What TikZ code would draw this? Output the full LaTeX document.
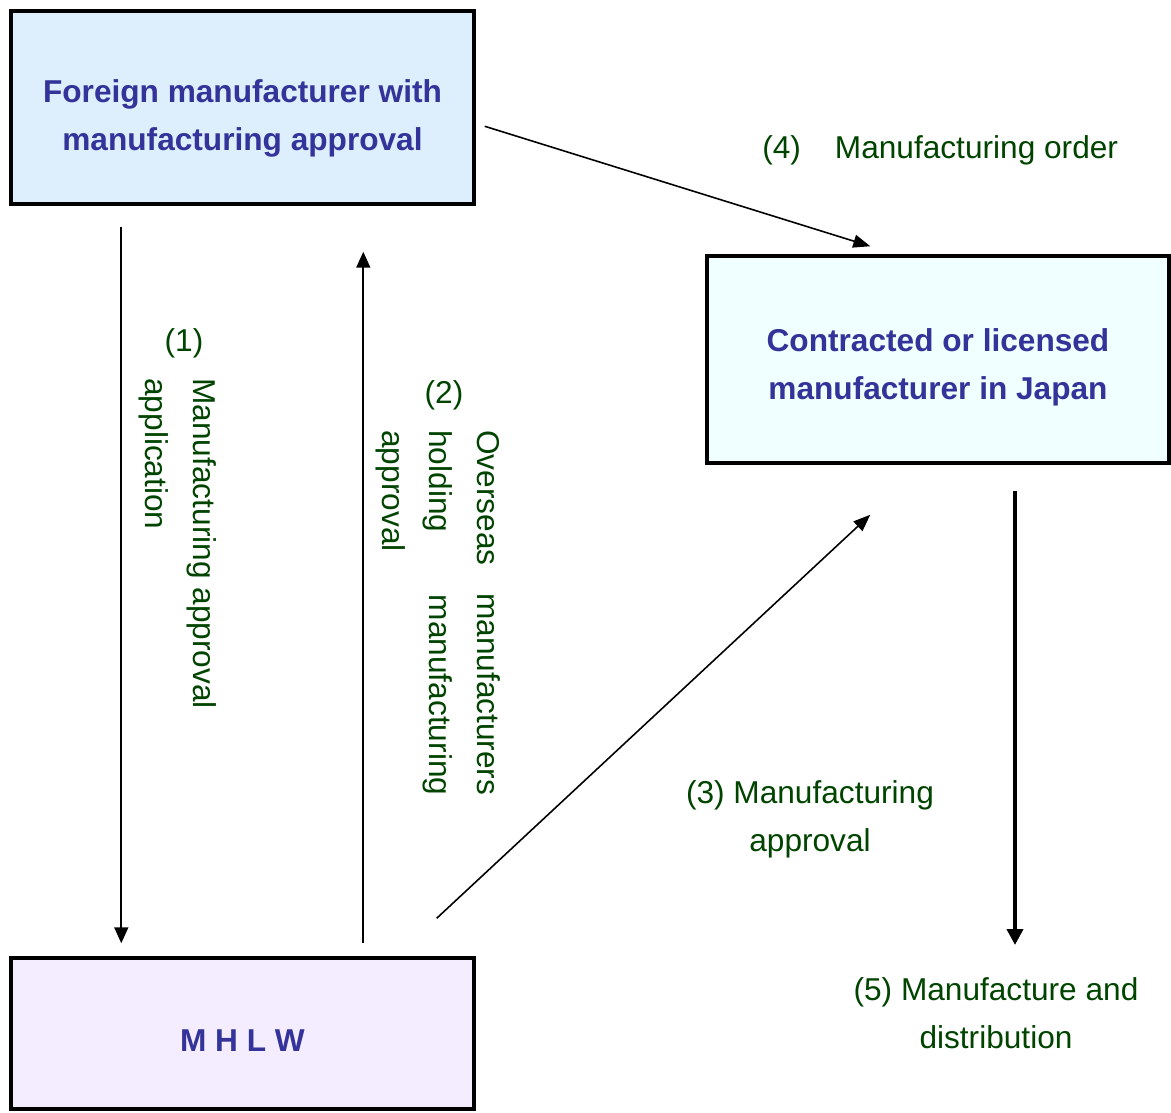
\documentclass[tikz,border=0pt]{standalone}
\usepackage{fontspec}
\setmainfont{Liberation Sans}
\usetikzlibrary{arrows.meta,calc}
\definecolor{boxtext}{HTML}{333399}
\definecolor{lblgreen}{HTML}{004400}
\definecolor{fillA}{HTML}{DDEEFD}
\definecolor{fillB}{HTML}{F0FFFF}
\definecolor{fillC}{HTML}{F4ECFF}
\begin{document}
\begin{tikzpicture}[x=0.02cm,y=-0.02cm,
  box/.style={draw=black,line width=2pt,rectangle,inner sep=0pt},
  boxlbl/.style={inner sep=0pt,align=center,text=boxtext,
    font=\fontsize{18}{27.2}\selectfont\bfseries},
  lbl/.style={inner sep=0pt,text=lblgreen,font=\fontsize{18}{27.2}\selectfont},
  thin/.style={line width=1pt,-{Triangle[length=0.32cm,width=0.28cm]}},
  mid/.style={line width=0.9pt,-{Triangle[length=0.34cm,width=0.26cm]}},
  thick/.style={line width=2.2pt,-{Triangle[length=0.32cm,width=0.32cm]}}]
\useasboundingbox (0,0) rectangle (1171,1113);
\node[box,fill=fillA,minimum width=9.26cm,minimum height=3.86cm] (fm) at (242.5,107.5) {};
\node[box,fill=fillB,minimum width=9.24cm,minimum height=4.14cm] (jp) at (938,359.5) {};
\node[box,fill=fillC,minimum width=9.26cm,minimum height=3.02cm] (mh) at (242.5,1033.5) {};
\node[boxlbl] (fmt) at ($(fm.center)+(0,11)$) {Foreign manufacturer with\\manufacturing approval};
\node[boxlbl] (jpt) at ($(jp.center)+(0,8)$) {Contracted or licensed\\manufacturer in Japan};
\node[boxlbl] (mht) at ($(mh.center)+(0,7)$) {M H L W};
% connectors
\coordinate (dist) at (1015,945);
\draw[thin] ($(fm.south west)+(112,21)$) -- ($(mh.north west)+(112,-13)$);
\draw[thin] ($(mh.north west)+(354,-13)$) -- ($(fm.south west)+(354,46)$);
\draw[mid] ($(mh.north east)+(-39,-38)$) -- ($(jp.south west)+(165,50)$);
\draw[mid] ($(fm.north east)+(9,117)$) -- ($(jp.north west)+(165,-8)$);
\draw[thick] (jp.south -| dist) ++(0,26) -- (dist);
% labels
\node[lbl] (n1) at (184,343) {(1)};
\node[lbl,rotate=-90,anchor=north west,align=left] (t1) at (217,378)
  {Manufacturing approval\\application};
\node[lbl] (n2) at (444,395) {(2)};
\node[lbl,rotate=-90,anchor=north west,align=left] (t2) at (501,430)
  {\hbox to 7.3cm{Overseas\hfill manufacturers}\\\hbox to 7.3cm{holding\hfill manufacturing}\\approval};
\node[lbl,align=center] (t3) at (810,819) {(3) Manufacturing\\approval};
\node[lbl,anchor=west] (t4) at (762,150) {(4)\hspace{0.68cm}Manufacturing order};
\node[lbl,align=center] (t5) at (996,1013) {(5) Manufacture and\\distribution};
\end{tikzpicture}
\end{document}
